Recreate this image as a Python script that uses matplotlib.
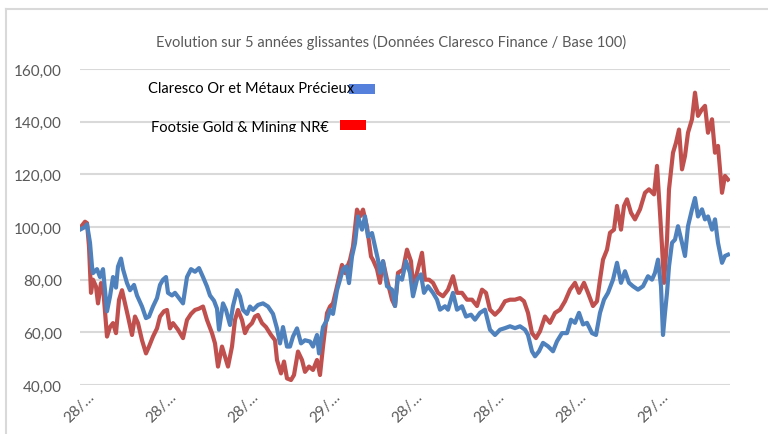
import matplotlib
matplotlib.use("Agg")
from matplotlib import pyplot as plt
from matplotlib.patches import Rectangle
from matplotlib.lines import Line2D
from matplotlib.transforms import Bbox

plt.rcParams['font.family'] = ['Lato', 'DejaVu Sans']

# jours (index de cotation) et valeurs base 100
claresco_jours = [0, 10, 14, 20, 24, 26, 34, 40, 46, 50, 54, 60, 66, 72, 76, 82, 86, 94, 100, 108,
                  114, 124, 132, 138, 146, 154, 160, 166, 172, 176, 184, 190, 198, 206, 214, 222, 230,
                  238, 246, 254, 260, 268, 274, 278, 286, 292, 300, 306, 314, 320, 326, 334, 340, 346,
                  356, 366, 376, 386, 394, 400, 406, 414, 420, 426, 434, 442, 450, 460, 466, 474, 478,
                  486, 494, 500, 506, 514, 520, 526, 532, 538, 544, 550, 556, 564, 570, 576, 584, 590,
                  596, 600, 606, 614, 624, 630, 636, 644, 652, 660, 666, 674, 682, 688, 696, 706, 714,
                  720, 730, 736, 746, 754, 764, 772, 782, 790, 800, 810, 820, 830, 840, 850, 860, 870,
                  880, 890, 896, 904, 910, 918, 926, 936, 946, 954, 964, 974, 982, 990, 998, 1006, 1014,
                  1024, 1032, 1040, 1048, 1056, 1066, 1074, 1082, 1090, 1098, 1106, 1116, 1126, 1136,
                  1144, 1150, 1156, 1162, 1166, 1170, 1174, 1178, 1184, 1190, 1196, 1204, 1210, 1216,
                  1224, 1230, 1236, 1244, 1250, 1256, 1264, 1270, 1276, 1284, 1290, 1296]
claresco_vals = [99, 100, 101, 94, 85, 82.5, 84, 81, 84, 76, 68, 73.6, 81, 77, 85, 88, 84, 78.7, 76, 78,
                 74, 69.8, 65.4, 66, 69.8, 73, 78, 80, 81, 75, 74, 75, 73, 71, 81, 84, 83,
                 84.4, 81, 77.4, 74, 72, 69, 61, 71, 68.5, 62.8, 70, 76, 73.6, 68.5, 67, 69.8, 68.5,
                 70.4, 71, 69.8, 67, 61.5, 55.8, 62, 54.6, 54.6, 58.4, 61.5, 55.8, 57, 56.5, 54.6, 59, 52,
                 62, 64.7, 68.5, 67, 76, 80, 84, 85, 78.7, 88.8, 93.9, 104, 99, 104, 96.4, 97.7, 92.6,
                 87.5, 82.6, 87, 77.5, 76.2, 70, 81.3, 80, 87, 82.6, 73.7, 80, 82, 75, 77.5, 75, 72.4,
                 68.6, 69.9, 68.6, 75, 68.6, 69.9, 66, 66.7, 64.8, 67.4, 68.6, 61, 59, 61, 61.6, 62.3, 61.6,
                 62.3, 61, 59, 52.8, 50.9, 52.8, 56, 54.7, 52.8, 56.6, 59.7, 59.7, 64.8, 63.6, 67.4, 63, 63.6,
                 59.7, 59, 67.4, 72.4, 75, 80, 86.4, 78.8, 83.2, 78.8, 77.5, 76.2, 77.5, 81.3,
                 80, 82.6, 87.6, 77.5, 59, 67.4, 75, 85, 94, 95.2, 100.3, 94, 89, 100.3,
                 106.7, 111, 104, 106.7, 102.9, 104, 99, 102.9, 94, 86.4, 89, 89.5]

footsie_jours = [0, 10, 14, 18, 22, 26, 32, 36, 42, 46, 54, 60, 66, 72, 78, 84, 90, 96, 104, 110,
                 116, 124, 132, 138, 146, 154, 160, 168, 174, 180, 186, 196, 206, 214, 222, 230, 238,
                 246, 254, 264, 270, 276, 284, 290, 296, 304, 310, 316, 324, 330, 336, 344, 350, 356,
                 364, 372, 382, 390, 394, 402, 408, 414, 422, 428, 436, 444, 450, 458, 466, 474, 480,
                 486, 494, 500, 506, 514, 524, 530, 540, 546, 554, 560, 566, 574, 582, 586, 594, 600,
                 606, 614, 624, 630, 636, 646, 654, 662, 666, 674, 684, 690, 698, 706, 716, 726, 736,
                 746, 754, 764, 774, 784, 794, 804, 812, 820, 830, 840, 850, 860, 870, 880, 888, 896,
                 904, 912, 920, 930, 940, 950, 960, 970, 980, 990, 998, 1008, 1016, 1026, 1034, 1040,
                 1046, 1054, 1060, 1068, 1074, 1082, 1088, 1094, 1102, 1110, 1120, 1130, 1138, 1148,
                 1154, 1160, 1164, 1168, 1174, 1178, 1186, 1192, 1198, 1204, 1210, 1216, 1224, 1230,
                 1236, 1244, 1250, 1256, 1264, 1270, 1276, 1284, 1290, 1296]
footsie_vals = [99.6, 102, 101.5, 92.6, 75, 80, 77.4, 71, 78.7, 77.4, 58.4, 62, 63.5, 59.7, 72.3, 76, 71,
                66, 59, 66, 63.5, 57, 52, 54.6, 58.4, 61.5, 66, 68, 68.5, 61.5, 63.5, 61, 57.8, 64.7, 67,
                68.5, 69, 69.8, 64.7, 59.7, 55.8, 47, 54.6, 50.8, 47, 54.6, 64.7, 68.5, 64.7, 59.7, 62,
                63.5, 66, 66.6, 63.5, 62, 59, 57, 49.5, 44.4, 48.9, 42.5, 41.9, 43.8, 52.7, 49.5, 45, 47,
                45.7, 49.5, 43.8, 54.6, 67.3, 69.8, 71, 77.4, 85.6, 82.5, 87.5, 92.6, 106.6, 104, 106.6,
                100, 88.8, 87.5, 84, 78.8, 87, 80, 72.4, 70, 82.6, 83.8, 91.4, 87, 77.5, 82.6, 90.2, 80,
                80, 78.8, 75, 73.7, 76.2, 81.3, 75, 75, 72.4, 72.4, 70, 76.2, 75, 68.6, 66.7, 68.6, 71.8,
                72.4, 72.4, 73, 71.8, 67.4, 59.7, 57.8, 60.4, 66, 63.6, 67.4, 68.6, 71.8, 76.2, 78.8, 75,
                78.8, 75, 70, 71.8, 80, 87.6, 91.4, 97.8, 99, 108, 99, 108, 110.5, 105.4, 102.9, 106.7,
                113, 114.3, 112.4, 123.2, 105.4, 92.7, 78.8, 95.2, 114.3, 128.2, 132, 137, 121.9, 127,
                135.8, 140.9, 151, 142.2, 144.7, 146, 135.8, 140.9, 128.2, 130.8, 113, 119.4, 118]

tick_jours = [14, 178, 342, 506, 670, 834, 998, 1162]
tick_labels = ['28/…', '28/…', '28/…', '29/…', '28/…', '28/…', '28/…', '29/…']
y_ticks = [40, 60, 80, 100, 120, 140, 160]

series_names = ['Claresco Or et Métaux Précieux', 'Footsie Gold & Mining NR€']

W, H = 768, 435
fig = plt.figure(figsize=(W / 100, H / 100), dpi=100)
ax = fig.add_axes([80 / W, 1 - 386 / H, 650 / W, 316 / H])

ax.plot(footsie_jours, footsie_vals, color='#C0504D', lw=3.0, solid_joinstyle='round')
ax.plot(claresco_jours, claresco_vals, color='#4F81BD', lw=3.0, solid_joinstyle='round')

ax.set_xlim(0, 1300)
ax.set_ylim(40, 160)
ax.set_yticks(y_ticks)
ax.set_yticklabels(['%d,00' % v for v in y_ticks], color='#595959', fontsize=11)
ax.set_xticks(tick_jours)
ax.set_xticklabels(tick_labels, color='#595959', fontsize=11, rotation=45,
                   ha='right', va='top', rotation_mode='anchor')
ax.tick_params(axis='y', length=0, pad=13)
ax.tick_params(axis='x', length=0, pad=3)
ax.grid(axis='y', color='#D9D9D9', lw=1.5)
ax.set_axisbelow(True)
for s in ax.spines.values():
    s.set_visible(False)

fig.text(391 / W, 1 - 42 / H, 'Evolution sur 5 années glissantes (Données Claresco Finance / Base 100)',
         ha='center', va='center', color='#595959', fontsize=10.5)

# legende maison
fig.text(148 / W, 1 - 89 / H, series_names[0], ha='left', va='center', fontsize=10.5, color='black')
fig.add_artist(Rectangle((349 / W, 1 - 95 / H), 26 / W, 10 / H, transform=fig.transFigure,
                         color='#5580DB', lw=0))
t2 = fig.text(151 / W, 1 - 128 / H, series_names[1], ha='left', va='center', fontsize=10.5,
              color='black')
t2.set_clip_box(Bbox([[0, H - 133], [W, H]]))
t2.set_clip_on(True)
fig.add_artist(Rectangle((340 / W, 1 - 131 / H), 26 / W, 10 / H, transform=fig.transFigure,
                         color='#FF0000', lw=0))

# cadre
fig.add_artist(Line2D([6 / W, 1], [1 - 10 / H, 1 - 10 / H], transform=fig.transFigure,
                      color='#D9D9D9', lw=1.5))
fig.add_artist(Line2D([6 / W, 6 / W], [0, 1 - 10 / H], transform=fig.transFigure,
                      color='#D9D9D9', lw=1.5))

fig.savefig('out.png', dpi=100)
